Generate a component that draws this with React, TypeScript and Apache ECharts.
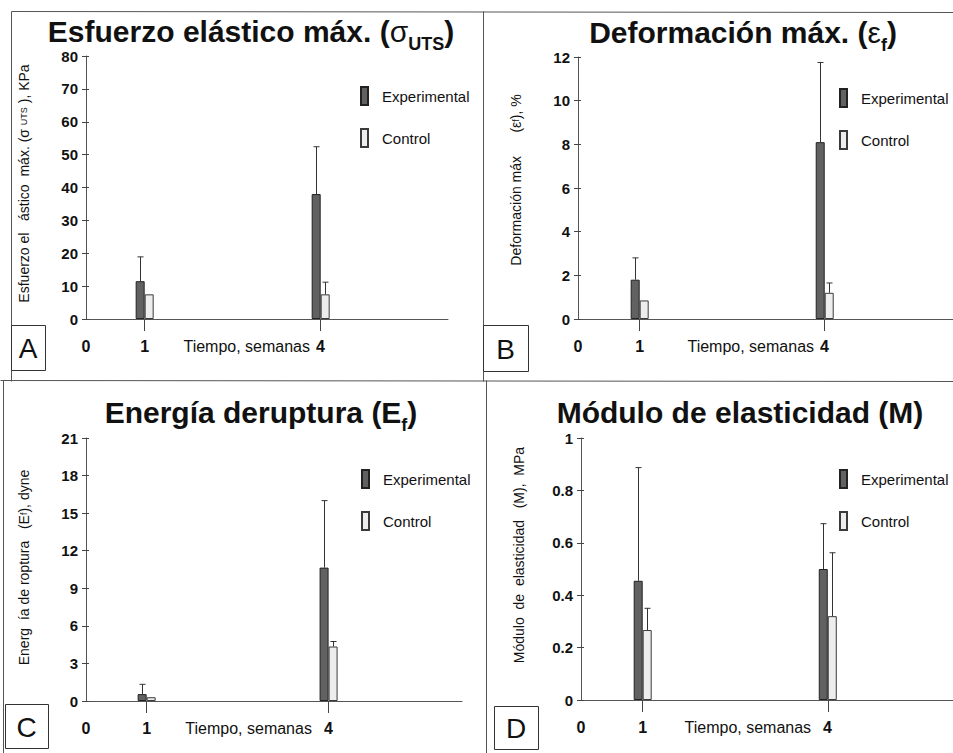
import React, { useEffect, useRef } from "react";
import * as echarts from "echarts";

// ---- data ----
const weeks = [1, 4];
const xTickLabels = [0, 1, 4];

const stressExp = [11.5, 38];
const stressExpUpper = [18.9, 52.4];
const stressCtl = [7.5, 7.5];
const stressCtlUpper = [7.5, 11.2];
const stressTicks = { min: 0, max: 80, step: 10 };

const strainExp = [1.8, 8.1];
const strainExpUpper = [2.8, 11.75];
const strainCtl = [0.85, 1.2];
const strainCtlUpper = [0.85, 1.65];
const strainTicks = { min: 0, max: 12, step: 2 };

const energyExp = [0.55, 10.65];
const energyExpUpper = [1.33, 16.0];
const energyCtl = [0.3, 4.35];
const energyCtlUpper = [0.3, 4.75];
const energyTicks = { min: 0, max: 21, step: 3 };

const modulusExp = [0.455, 0.5];
const modulusExpUpper = [0.887, 0.673];
const modulusCtl = [0.267, 0.32];
const modulusCtlUpper = [0.35, 0.562];
const modulusTicks = { min: 0, max: 1, step: 0.2 };

const seriesNames = ["Experimental", "Control"];
const xAxisTitle = "Tiempo, semanas";

const FONT = "'Liberation Sans', Arial, sans-serif";
const EXP_FILL = "#616161";
const EXP_BORDER = "#222";
const CTL_FILL = "#ededed";
const CTL_BORDER = "#3a3a3a";
const INK = "#111";

const panels = [
  {
    letter: "A",
    exp: stressExp, expUp: stressExpUpper, ctl: stressCtl, ctlUp: stressCtlUpper, ticks: stressTicks,
    yName: "Esfuerzo el   ástico  máx. (σ {sub|UTS} ), KPa",
    yNameShift: 4,
    title: "{b|Esfuerzo elástico máx. (}{s|σ}{u|UTS}{b|)}",
    titleX: 251, titleY: 31,
    grid: { left: 86, top: 56, width: 362, height: 263 }, xMax: 6.17,
    legend: { left: 355, top: 81 },
    box: { x: 11, y: 325, w: 34, h: 45 },
    tGap: 6,
  },
  {
    letter: "B",
    exp: strainExp, expUp: strainExpUpper, ctl: strainCtl, ctlUp: strainCtlUpper, ticks: strainTicks,
    yName: "Deformación máx      (ε{sub|f}), %",
    yNameShift: 8,
    title: "{b|Deformación máx. (}{s|ε}{u|f}{b|)}",
    titleX: 743, titleY: 32,
    grid: { left: 578, top: 57, width: 375, height: 262 }, xMax: 6.08,
    legend: { left: 834, top: 83 },
    box: { x: 483, y: 325, w: 45, h: 46 },
    tGap: 6,
  },
  {
    letter: "C",
    exp: energyExp, expUp: energyExpUpper, ctl: energyCtl, ctlUp: energyCtlUpper, ticks: energyTicks,
    yName: "Energ  ía de roptura   (E{sub|f}), dyne",
    yNameShift: 2,
    title: "{b|Energía deruptura (E}{u|f}{b|)}",
    titleX: 261, titleY: 412,
    grid: { left: 86, top: 438, width: 376, height: 263 }, xMax: 6.2,
    legend: { left: 356, top: 464 },
    box: { x: 5, y: 704, w: 43, h: 44 },
    tGap: 12,
  },
  {
    letter: "D",
    exp: modulusExp, expUp: modulusExpUpper, ctl: modulusCtl, ctlUp: modulusCtlUpper, ticks: modulusTicks,
    yName: "Módulo  de  elasticidad   (M),  MPa",
    yNameShift: 14,
    title: "{b|Módulo de elasticidad (M)}",
    titleX: 740, titleY: 412,
    grid: { left: 581, top: 438, width: 372, height: 262 }, xMax: 6.03,
    legend: { left: 834, top: 464 },
    box: { x: 494, y: 706, w: 44, h: 43 },
    tGap: 12,
  },
];

function fmtNum(v: number) {
  return String(+v.toFixed(2));
}

function buildOption() {
  const grids: any[] = [];
  const xAxes: any[] = [];
  const yAxes: any[] = [];
  const series: any[] = [];
  const legends: any[] = [];
  const graphics: any[] = [];

  panels.forEach((p, i) => {
    grids.push({ ...p.grid, containLabel: false });
    // the "4" label stays centred on its tick: pad the label symmetrically
    const tW = 127 + p.tGap;
    xAxes.push({
      type: "value",
      gridIndex: i,
      min: 0,
      max: p.xMax,
      axisLine: { show: true, onZero: false, lineStyle: { color: "#555", width: 1 } },
      axisTick: { show: true, customValues: weeks, length: 12, lineStyle: { color: "#444" } },
      axisLabel: {
        show: true,
        customValues: xTickLabels,
        margin: 19,
        fontFamily: FONT,
        fontSize: 16,
        fontWeight: "bold",
        color: INK,
        formatter: (v: number) =>
          v === weeks[1] ? `{t|${xAxisTitle}}{g|}{n|${v}}{r|}` : `{n|${v}}`,
        rich: {
          t: { fontFamily: FONT, fontSize: 16, fontWeight: "normal", color: INK },
          n: { fontFamily: FONT, fontSize: 16, fontWeight: "bold", color: INK },
          g: { width: p.tGap },
          r: { width: tW },
        },
      },
      splitLine: { show: false },
    });

    const yIdx = yAxes.length;
    yAxes.push({
      type: "value",
      gridIndex: i,
      min: p.ticks.min,
      max: p.ticks.max,
      interval: p.ticks.step,
      name: p.yName,
      nameLocation: "middle",
      nameRotate: 90,
      nameGap: 55,
      nameTextStyle: {
        fontFamily: FONT,
        fontSize: 14,
        color: INK,
        padding: [0, 0, 0, p.yNameShift * 2],
        rich: { sub: { fontFamily: FONT, fontSize: 9, color: INK } },
      },
      axisLine: { show: true, lineStyle: { color: "#555", width: 1 } },
      axisTick: { show: true, length: 4, lineStyle: { color: "#444" } },
      axisLabel: {
        margin: 8,
        fontFamily: FONT,
        fontSize: 15,
        fontWeight: "bold",
        color: INK,
        formatter: (v: number) => fmtNum(v),
      },
      splitLine: { show: false },
    });
    yAxes.push({
      type: "value",
      gridIndex: i,
      position: "left",
      min: p.ticks.min,
      max: p.ticks.max,
      interval: p.ticks.step,
      axisLine: { show: false },
      axisTick: { show: true, inside: true, length: 3, lineStyle: { color: "#444" } },
      axisLabel: { show: false },
      splitLine: { show: false },
    });

    series.push({
      type: "bar",
      name: seriesNames[0],
      xAxisIndex: i,
      yAxisIndex: yIdx,
      barWidth: 9,
      barGap: "0%",
      itemStyle: { color: EXP_FILL, borderColor: EXP_BORDER, borderWidth: 1 },
      data: weeks.map((w, k) => [w, p.exp[k]]),
    });
    series.push({
      type: "bar",
      name: seriesNames[1],
      xAxisIndex: i,
      yAxisIndex: yIdx,
      barWidth: 9,
      barGap: "0%",
      itemStyle: { color: CTL_FILL, borderColor: CTL_BORDER, borderWidth: 1 },
      data: weeks.map((w, k) => [w, p.ctl[k]]),
    });
    const errData: number[][] = [];
    weeks.forEach((w, k) => {
      if (p.expUp[k] > p.exp[k]) errData.push([w, p.exp[k], p.expUp[k], -1]);
      if (p.ctlUp[k] > p.ctl[k]) errData.push([w, p.ctl[k], p.ctlUp[k], 1]);
    });
    series.push({
      type: "custom",
      name: "err" + i,
      xAxisIndex: i,
      yAxisIndex: yIdx,
      z: 5,
      clip: false,
      encode: { x: 0, y: [1, 2] },
      data: errData,
      renderItem: (params: any, api: any) => {
        const x = api.value(0);
        const v = api.value(1);
        const u = api.value(2);
        const side = api.value(3);
        const p0 = api.coord([x, v]);
        const p1 = api.coord([x, u]);
        const cx = Math.round(p0[0] + side * 4.5) + 0.5;
        return {
          type: "group",
          children: [
            { type: "line", shape: { x1: cx, y1: p0[1], x2: cx, y2: p1[1] }, style: { stroke: "#333", lineWidth: 1 } },
            { type: "line", shape: { x1: cx - 3, y1: p1[1], x2: cx + 3, y2: p1[1] }, style: { stroke: "#333", lineWidth: 1 } },
          ],
        };
      },
    });

    legends.push({
      left: p.legend.left,
      top: p.legend.top,
      orient: "vertical",
      icon: "rect",
      itemWidth: 7,
      itemHeight: 18,
      itemGap: 22,
      selectedMode: false,
      data: seriesNames,
      textStyle: { fontFamily: FONT, fontSize: 15, color: INK, padding: [0, 0, 0, 9] },
    });

    graphics.push({
      type: "text",
      x: p.titleX,
      y: p.titleY,
      style: {
        text: p.title,
        align: "center",
        verticalAlign: "middle",
        rich: {
          b: { fontFamily: FONT, fontSize: 30, fontWeight: "bold", fill: INK, lineHeight: 26 },
          s: { fontFamily: FONT, fontSize: 30, fontWeight: "normal", fill: INK, lineHeight: 26 },
          u: { fontFamily: FONT, fontSize: 18, fontWeight: "bold", fill: INK, lineHeight: 1, padding: [26, 0, 0, 0] },
        },
      },
    });
    graphics.push({
      type: "rect",
      shape: { x: p.box.x + 0.5, y: p.box.y + 0.5, width: p.box.w, height: p.box.h },
      style: { fill: "#fff", stroke: "#333", lineWidth: 1 },
    });
    graphics.push({
      type: "text",
      x: p.box.x + p.box.w / 2,
      y: p.box.y + p.box.h / 2 + 1,
      style: {
        text: p.letter,
        align: "center",
        verticalAlign: "middle",
        font: `28px ${FONT}`,
        fill: INK,
      },
    });
  });

  // frame lines of the figure
  const frame = [
    [11, 11, 953, 12],
    [11, 11, 11, 381],
    [483, 11, 483, 381],
    [0, 380, 953, 381],
    [3, 380, 3, 753],
    [486, 380, 486, 753],
  ];
  frame.forEach(([x1, y1, x2, y2]) => {
    graphics.push({
      type: "line",
      shape: { x1: x1 + 0.5, y1: y1 + 0.5, x2: x2 + 0.5, y2: y2 + 0.5 },
      style: { stroke: "#555", lineWidth: 1 },
      z: -1,
    });
  });

  return {
    animation: false,
    backgroundColor: "#fff",
    grid: grids,
    xAxis: xAxes,
    yAxis: yAxes,
    legend: legends,
    series,
    graphic: graphics,
  };
}

export default function App() {
  const ref = useRef<HTMLDivElement>(null);
  useEffect(() => {
    if (!ref.current) return;
    const chart = echarts.init(ref.current, null, { renderer: "svg" });
    chart.setOption(buildOption() as any);
    return () => chart.dispose();
  }, []);
  return (
    <div
      ref={ref}
      style={{ width: 953, height: 753, position: "absolute", left: 0, top: 0, background: "#fff" }}
    />
  );
}
